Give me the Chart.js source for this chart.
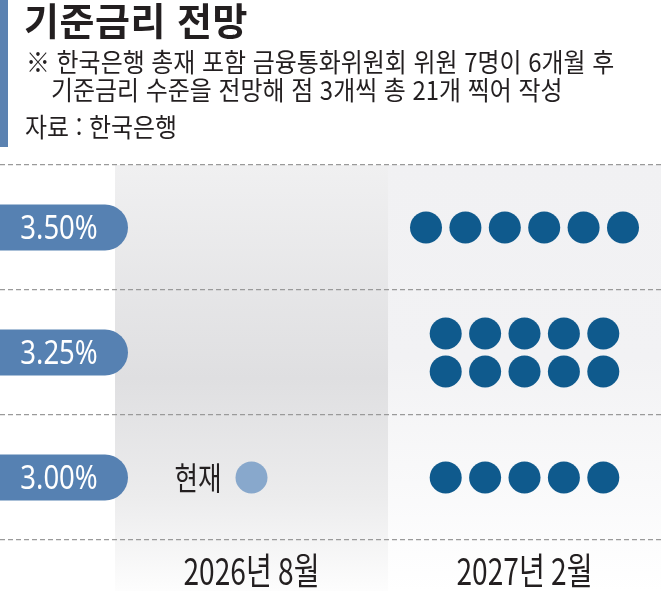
<!DOCTYPE html>
<html lang="ko">
<head>
<meta charset="utf-8">
<title>기준금리 전망</title>
<script src="https://cdn.jsdelivr.net/npm/chart.js@4.4.1/dist/chart.umd.min.js"></script>
<style>
    html, body { margin: 0; padding: 0; background: #fff; }
    #wrap { position: relative; width: 661px; height: 591px; overflow: hidden;
            font-family: "Noto Sans CJK KR", "Noto Sans", sans-serif; color: #231f20; }
    #bar { position: absolute; left: 0; top: 0; width: 8px; height: 147px; background: #5b82b1; }
    .t { position: absolute; white-space: nowrap; transform-origin: 0 50%; }
    #title { left: 24px; top: -1px; font-size: 38px; line-height: 40px; font-weight: 700; letter-spacing: 0.5px; }
    #sub1 { left: 26px; top: 46px; font-size: 26px; line-height: 30px; transform: scaleX(0.92); }
    #sub2 { left: 51px; top: 74px; font-size: 26px; line-height: 30px; transform: scaleX(0.92); }
    #src { left: 25px; top: 111px; font-size: 26px; line-height: 30px; transform: scaleX(0.92); }
    #chart { position: absolute; left: 0; top: 0; }
</style>
</head>
<body>
<div id="wrap">
    <canvas id="chart" width="661" height="591"></canvas>
    <div id="bar"></div>
    <div class="t" id="title">기준금리 전망</div>
    <div class="t" id="sub1">※ 한국은행 총재 포함 금융통화위원회 위원 7명이 6개월 후</div>
    <div class="t" id="sub2">기준금리 수준을 전망해 점 3개씩 총 21개 찍어 작성</div>
    <div class="t" id="src">자료 : 한국은행</div>
</div>
<script>
// 데이터
const periods = ['2026년 8월', '2027년 2월'];
const rates = [3.50, 3.25, 3.00];
const rateLabels = ['3.50%', '3.25%', '3.00%'];
const dotsFeb2027 = [6, 10, 5];   // 2027년 2월 전망 점 개수
const currentRate = 3.00;
const currentLabel = '현재';

(() => {
    const DOT = '#0f5a8d';
    const LIGHT = '#88a8cc';
    const PILL = '#5681b2';
    const DX = 0.1443;      // 점 간격 (x축 단위)
    const ROW_GAP = 0.076;  // 줄 간격 (금리 단위)
    const MAX_ROW = 6;

    // 점 위치: 기간 1(2027년 2월) 중심으로 줄 맞춤
    let dots = [];
    rates.forEach((r, i) => {
        const n = dotsFeb2027[i];
        const rows = Math.ceil(n / MAX_ROW);
        const per = Math.ceil(n / rows);
        for (let k = 0; k < n; k++) {
            const row = Math.floor(k / per);
            const col = k % per;
            const inRow = Math.min(per, n - row * per);
            dots.push({
                x: 1 + (col - (inRow - 1) / 2) * DX,
                y: r + ((rows - 1) / 2 - row) * ROW_GAP
            });
        }
    });

    const condensed = (ctx, text, x, y, font, color, sx, align) => {
        ctx.save();
        ctx.font = font;
        ctx.fillStyle = color;
        ctx.textAlign = align;
        ctx.textBaseline = 'alphabetic';
        ctx.translate(x, y);
        ctx.scale(sx, 1);
        ctx.fillText(text, 0, 0);
        ctx.restore();
    };

    const backdrop = {
        id: 'backdrop',
        beforeDraw(chart) {
            const ctx = chart.ctx;
            const xs = chart.scales.x;
            const top = chart.chartArea.top;
            const bottom = chart.height;
            const a = xs.getPixelForValue(-0.5);
            const b = xs.getPixelForValue(0.5);
            const c = xs.getPixelForValue(1.5);

            let g = ctx.createLinearGradient(0, top, 0, bottom);
            g.addColorStop(0, '#f0f0f1');
            g.addColorStop(0.5, '#dfdfe1');
            g.addColorStop(0.78, '#ececed');
            g.addColorStop(1, '#fdfdfd');
            ctx.fillStyle = g;
            ctx.fillRect(a, top, b - a, bottom - top);

            g = ctx.createLinearGradient(0, top, 0, bottom);
            g.addColorStop(0, '#f1f1f3');
            g.addColorStop(0.45, '#f2f2f4');
            g.addColorStop(1, '#ffffff');
            ctx.fillStyle = g;
            ctx.fillRect(b, top, c - b, bottom - top);
        },
        afterDraw(chart) {
            const ctx = chart.ctx;
            const xs = chart.scales.x;
            const ys = chart.scales.y;

            // 금리 라벨 (알약 모양)
            rates.forEach((r, i) => {
                const y = ys.getPixelForValue(r);
                const h = 23;
                const w = 128;
                ctx.save();
                ctx.fillStyle = PILL;
                ctx.beginPath();
                ctx.moveTo(0, y - h);
                ctx.lineTo(w - h, y - h);
                ctx.arc(w - h, y, h, -Math.PI / 2, Math.PI / 2);
                ctx.lineTo(0, y + h);
                ctx.closePath();
                ctx.fill();
                ctx.restore();
                condensed(ctx, rateLabels[i], 59, y + 11.5, '32px "Noto Sans"', '#fff', 0.86, 'center');
            });

            // 기간 라벨
            periods.forEach((p, i) => {
                condensed(ctx, p, xs.getPixelForValue(i), 585, '37px "Noto Sans CJK KR"', '#231f20', 0.76, 'center');
            });

            // 현재
            const cx = xs.getPixelForValue(0);
            const cy = ys.getPixelForValue(currentRate);
            condensed(ctx, currentLabel, cx - 30, cy + 12, '32px "Noto Sans CJK KR"', '#231f20', 0.8, 'right');
        }
    };

    const chart = new Chart(document.getElementById('chart'), {
        type: 'scatter',
        data: {
            datasets: [{
                label: '2027년 2월',
                data: dots,
                backgroundColor: DOT,
                borderWidth: 0,
                pointRadius: 16,
                pointHoverRadius: 16
            }, {
                label: currentLabel,
                data: [{ x: 0, y: currentRate }],
                backgroundColor: LIGHT,
                borderWidth: 0,
                pointRadius: 16,
                pointHoverRadius: 16
            }]
        },
        options: {
            responsive: false,
            animation: false,
            events: [],
            layout: { autoPadding: false, padding: { top: 165, bottom: 51, left: 0, right: 0 } },
            plugins: {
                legend: { display: false },
                tooltip: { enabled: false }
            },
            scales: {
                x: {
                    type: 'linear',
                    display: false,
                    min: -251.5 / 273,
                    max: 1.5
                },
                y: {
                    type: 'linear',
                    min: 2.875,
                    max: 3.625,
                    afterBuildTicks: (axis) => {
                        axis.ticks = [2.875, 3.125, 3.375, 3.625].map(v => ({ value: v }));
                    },
                    ticks: { display: false, padding: 0 },
                    grid: { color: '#9a9a9a', lineWidth: 1.3, drawTicks: false },
                    border: { display: false, dash: [5, 3] }
                }
            }
        },
        plugins: [backdrop]
    });
})();
</script>
</body>
</html>
